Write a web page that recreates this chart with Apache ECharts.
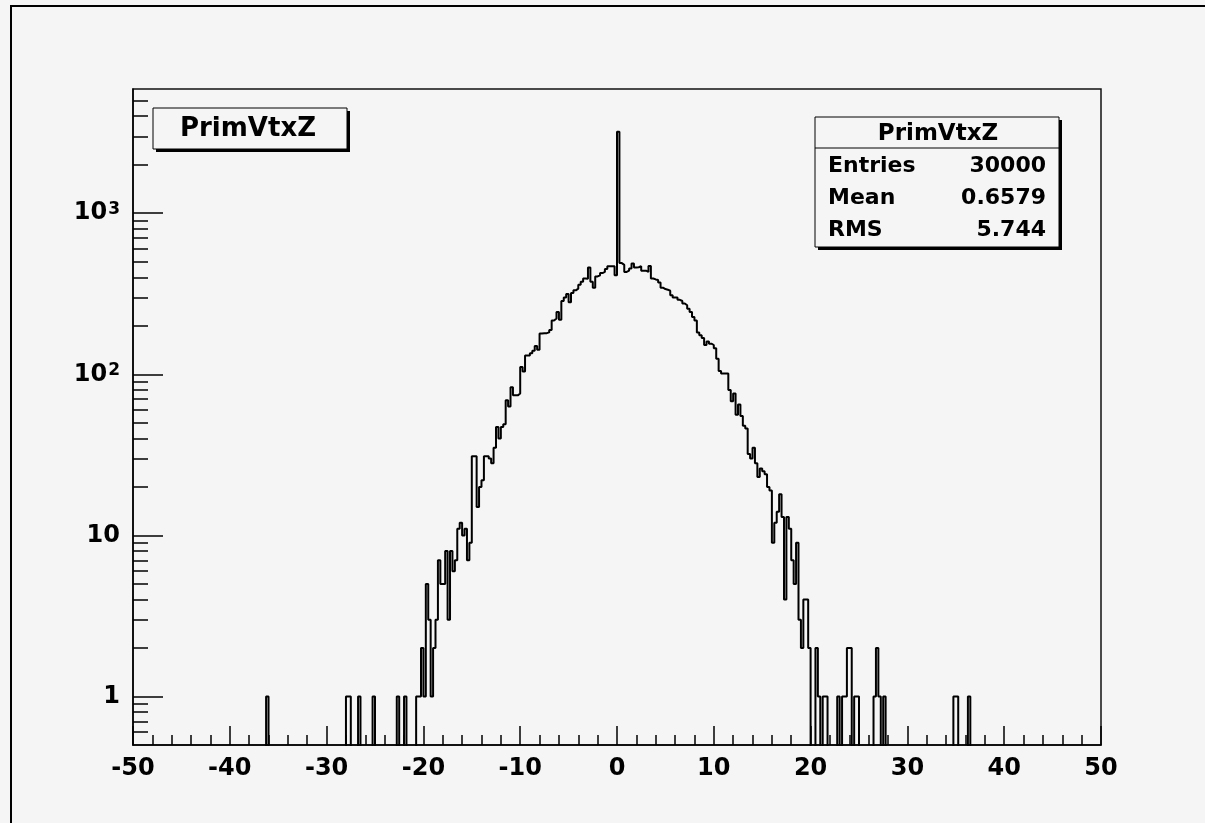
<!DOCTYPE html>
<html>
<head>
<meta charset="utf-8">
<title>PrimVtxZ</title>
<script src="https://cdn.jsdelivr.net/npm/echarts@6/dist/echarts.min.js"></script>
<style>
html, body { margin: 0; padding: 0; background: #f5f5f5; }
#main { width: 1205px; height: 823px; }
</style>
</head>
<body>
<div id="main"></div>
<script>
// PrimVtxZ: 400 bins of 0.25 between -50 and 50, drawn on a log y axis
var histName = 'PrimVtxZ';
var xLow = -50, xHigh = 50, binWidth = 0.25;

// dense part, one value per bin starting at coreStart (8 bins = 2 units per row)
var coreStart = -20.75;
var coreCounts = [
  1, 1, 2, 1, 5, 3, 1, 2,                   // -20.75
  3, 7, 5, 5, 8, 3, 8, 6,                   // -18.75
  7, 11, 12, 10, 11, 7, 9, 31,              // -16.75
  31, 15, 20, 22, 31, 31, 30, 28,           // -14.75
  35, 47, 40, 47, 49, 69, 63, 83,           // -12.75
  74, 74, 76, 111, 104, 131, 131, 135,      // -10.75
  140, 150, 142, 179, 180, 180, 182, 188,   // -8.75
  216, 222, 244, 218, 285, 300, 315, 280,   // -6.75
  320, 332, 340, 360, 375, 393, 392, 460,   // -4.75
  375, 345, 405, 412, 425, 432, 450, 469,   // -2.75
  469, 469, 412, 3200, 490, 478, 432, 440,  // -0.75
  453, 487, 460, 462, 469, 440, 440, 432,   // 1.25
  470, 393, 388, 385, 372, 345, 338, 335,   // 3.25
  330, 310, 300, 300, 290, 285, 275, 268,   // 5.25
  255, 244, 227, 216, 182, 175, 168, 152,   // 7.25
  160, 155, 152, 145, 125, 105, 101, 101,   // 9.25
  101, 80, 68, 76, 56, 65, 55, 48,          // 11.25
  46, 32, 30, 35, 28, 23, 26, 25,           // 13.25
  24, 20, 19, 9, 12, 14, 18, 13,            // 15.25
  4, 13, 11, 7, 5, 9, 3, 2,                 // 17.25
  4, 4, 2, 0, 0, 2, 1, 0,                   // 19.25
  1, 1                                      // 21.25
];

// isolated tail bins: [bin low edge, count]
var tailBins = [
  [-36.25, 1], [-28, 1], [-27.75, 1], [-26.75, 1], [-25.25, 1], [-22.75, 1], [-22, 1],
  [22.75, 1], [23.25, 1], [23.5, 1], [23.75, 2], [24, 2], [24.5, 1], [24.75, 1],
  [26.5, 1], [26.75, 2], [27, 1], [27.5, 1], [34.75, 1], [35, 1], [36.25, 1]
];

var statLabels = ['Entries', 'Mean', 'RMS'];
var statValues = ['30000', '0.6579', '5.744'];

var yMin = 0.5, yMax = 5900;
var yMajorTicks = [1, 10, 100, 1000];
var yMinorTicks = [0.6, 0.7, 0.8, 0.9, 2, 3, 4, 5, 6, 7, 8, 9,
  20, 30, 40, 50, 60, 70, 80, 90, 200, 300, 400, 500, 600, 700, 800, 900,
  2000, 3000, 4000, 5000];

var nBins = Math.round((xHigh - xLow) / binWidth);
var counts = [];
for (var i = 0; i < nBins; i++) counts.push(0);
function binIndex(x) { return Math.round((x - xLow) / binWidth); }
coreCounts.forEach(function (c, k) { counts[binIndex(coreStart) + k] = c; });
tailBins.forEach(function (b) { counts[binIndex(b[0])] = b[1]; });

// empty bins go under the log axis minimum, so the outline drops to the frame
var belowAxis = 0.05;
var steps = counts.map(function (c, i) { return [xLow + i * binWidth, c > 0 ? c : belowAxis]; });
steps.push([xHigh, belowAxis]);

var bg = '#f5f5f5';
var font = '"DejaVu Sans", "Liberation Sans", sans-serif';
var axisColor = '#000';

var statRowsY = [166, 198, 230];
var graphics = [
  // canvas border, only left and top edges are inside the picture
  { type: 'polyline', silent: true, shape: { points: [[11, 830], [11, 6], [1220, 6]] }, style: { fill: 'none', stroke: '#000', lineWidth: 2 } },
  // title box with shadow
  { type: 'rect', silent: true, shape: { x: 156, y: 111, width: 194, height: 41 }, style: { fill: '#000' } },
  { type: 'rect', silent: true, shape: { x: 153, y: 108, width: 194, height: 41 }, style: { fill: bg, stroke: '#000', lineWidth: 1 } },
  { type: 'text', silent: true, x: 248, y: 129, style: { text: histName, font: 'bold 26px ' + font, fill: '#000', align: 'center', verticalAlign: 'middle' } },
  // stats box
  { type: 'rect', silent: true, shape: { x: 818, y: 120, width: 244, height: 130 }, style: { fill: '#000' } },
  { type: 'rect', silent: true, shape: { x: 815, y: 117, width: 244, height: 130 }, style: { fill: bg, stroke: '#000', lineWidth: 1 } },
  { type: 'line', silent: true, shape: { x1: 815, y1: 148, x2: 1059, y2: 148 }, style: { stroke: '#000', lineWidth: 1 } },
  { type: 'text', silent: true, x: 938, y: 134, style: { text: histName, font: 'bold 23px ' + font, fill: '#000', align: 'center', verticalAlign: 'middle' } }
];
statLabels.forEach(function (lab, k) {
  graphics.push({ type: 'text', silent: true, x: 828, y: statRowsY[k], style: { text: lab, font: 'bold 22px ' + font, fill: '#000', align: 'left', verticalAlign: 'middle' } });
  graphics.push({ type: 'text', silent: true, x: 1046, y: statRowsY[k], style: { text: statValues[k], font: 'bold 22px ' + font, fill: '#000', align: 'right', verticalAlign: 'middle' } });
});

var chart = echarts.init(document.getElementById('main'), null, { renderer: 'canvas' });
chart.setOption({
  animation: false,
  backgroundColor: bg,
  grid: { left: 133, top: 89, right: 104, bottom: 78, show: true, borderColor: '#111', borderWidth: 1.5, backgroundColor: 'transparent' },
  xAxis: {
    type: 'value', min: xLow, max: xHigh, interval: 10,
    axisLine: { show: true, onZero: false, lineStyle: { color: axisColor, width: 1.5 } },
    axisTick: { show: true, inside: true, length: 19, lineStyle: { color: axisColor, width: 1.5 } },
    minorTick: { show: true, splitNumber: 5, length: 10, lineStyle: { color: axisColor, width: 1.5 } },
    axisLabel: { color: '#000', fontFamily: font, fontWeight: 'bold', fontSize: 24, margin: 12 },
    splitLine: { show: false }
  },
  yAxis: [{
    type: 'log', logBase: 10, min: yMin, max: yMax, position: 'left',
    axisLine: { show: true, onZero: false, lineStyle: { color: axisColor, width: 1.5 } },
    axisTick: { show: true, inside: true, length: 30, customValues: yMajorTicks, lineStyle: { color: axisColor, width: 1.5 } },
    axisLabel: {
      customValues: yMajorTicks, margin: 13, color: '#000',
      formatter: function (v) {
        var e = Math.round(Math.log10(v));
        return e < 2 ? '{b|' + Math.pow(10, e) + '}' : '{b|10}{s|' + e + '}';
      },
      rich: {
        b: { fontFamily: font, fontWeight: 'bold', fontSize: 24, color: '#000' },
        s: { fontFamily: font, fontWeight: 'bold', fontSize: 17, color: '#000', verticalAlign: 'top', padding: [0, 0, 8, 1] }
      }
    },
    splitLine: { show: false }
  }, {
    type: 'log', logBase: 10, min: yMin, max: yMax, position: 'left',
    axisLine: { show: false, onZero: false },
    axisTick: { show: true, inside: true, length: 15, customValues: yMinorTicks, lineStyle: { color: axisColor, width: 1.5 } },
    axisLabel: { show: false },
    splitLine: { show: false }
  }],
  series: [{
    type: 'line', step: 'end', data: steps, yAxisIndex: 0,
    showSymbol: false, symbol: 'none', clip: true,
    lineStyle: { color: '#000', width: 2 }
  }],
  graphic: graphics
});
</script>
</body>
</html>
